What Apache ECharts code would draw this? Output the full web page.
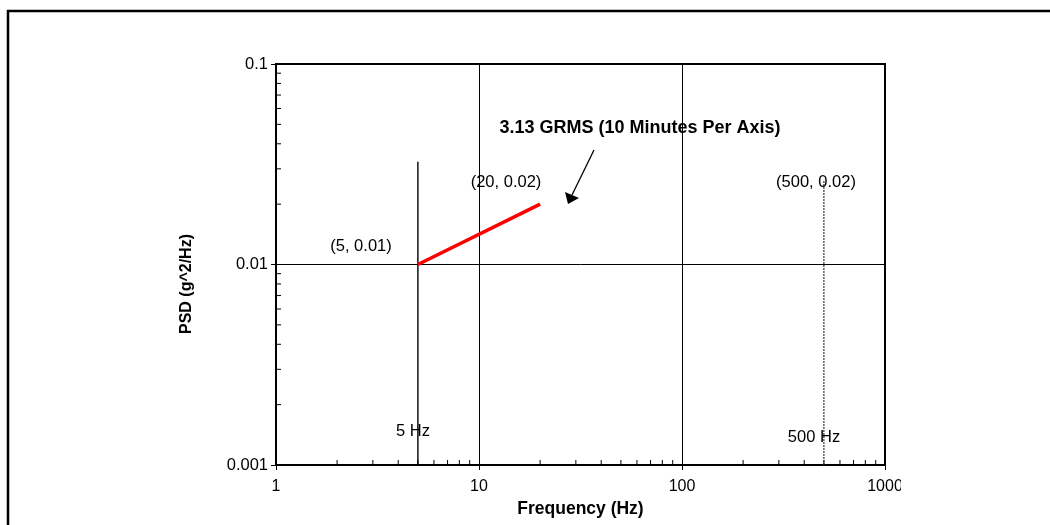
<!DOCTYPE html>
<html>
<head>
<meta charset="utf-8">
<script src="https://cdn.jsdelivr.net/npm/echarts@6/dist/echarts.min.js"></script>
<style>html,body{margin:0;padding:0;background:#fff;}#c{width:1050px;height:525px;}</style>
</head>
<body>
<div id="c"></div>
<script>
// ---- data ----
const xTickValues = [1, 10, 100, 1000];
const xTickLabels = ['1', '10', '100', '1000'];
const yTickValues = [0.001, 0.01, 0.1];
const yTickLabels = ['0.001', '0.01', '0.1'];
const xMinorTicks = [2,3,4,5,6,7,8,9,20,30,40,50,60,70,80,90,200,300,400,500,600,700,800,900];
const yMinorTicks = [0.002,0.003,0.004,0.005,0.006,0.007,0.008,0.009,0.02,0.03,0.04,0.05,0.06,0.07,0.08,0.09];
const profileFreq = [5, 20];
const profilePsd = [0.01, 0.02];
const line5HzFreq = [5, 5];
const line5HzPsd = [0.001, 0.0325];
const line500HzFreq = [500, 500];
const line500HzPsd = [0.001, 0.0265];

const FONT = '"Liberation Sans", Arial, sans-serif';
function lookup(vals, labels, v) {
  for (let i = 0; i < vals.length; i++) {
    if (Math.abs(Math.log10(v) - Math.log10(vals[i])) < 1e-6) return labels[i];
  }
  return '';
}
const zip = (a, b) => a.map((v, i) => [v, b[i]]);

const chart = echarts.init(document.getElementById('c'), null, {renderer: 'canvas'});
chart.setOption({
  animation: false,
  backgroundColor: '#fff',
  grid: {left: 276, right: 165, top: 64, bottom: 60, show: true, borderColor: '#000', borderWidth: 2, backgroundColor: 'transparent'},
  xAxis: {
    type: 'log', logBase: 10, min: 1, max: 1000,
    name: 'Frequency (Hz)', nameLocation: 'middle', nameGap: 28,
    nameTextStyle: {fontFamily: FONT, fontWeight: 'bold', fontSize: 17.5, color: '#000'},
    axisLine: {show: true, lineStyle: {color: '#000', width: 2}},
    axisTick: {show: true, length: 5, lineStyle: {color: '#000', width: 1}},
    axisLabel: {margin: 14, fontFamily: FONT, fontSize: 16, color: '#000',
      formatter: v => lookup(xTickValues, xTickLabels, v)},
    splitLine: {show: true, lineStyle: {color: '#000', width: 1}},
    minorTick: {show: false}, minorSplitLine: {show: false}
  },
  yAxis: {
    type: 'log', logBase: 10, min: 0.001, max: 0.1,
    axisLine: {show: true, lineStyle: {color: '#000', width: 2}},
    axisTick: {show: true, length: 5, lineStyle: {color: '#000', width: 1}},
    axisLabel: {margin: 8, fontFamily: FONT, fontSize: 16.5, color: '#000',
      formatter: v => lookup(yTickValues, yTickLabels, v)},
    splitLine: {show: true, lineStyle: {color: '#000', width: 1}}
  },
  series: [
    {
      type: 'custom', name: 'xMinor', clip: false, silent: true,
      data: xMinorTicks.map(v => [v, 0.001]),
      renderItem: (params, api) => {
        const p = api.coord([api.value(0), api.value(1)]);
        return {type: 'line', shape: {x1: p[0], y1: p[1], x2: p[0], y2: p[1] - 5}, style: {stroke: '#000', lineWidth: 1}};
      }
    },
    {
      type: 'custom', name: 'yMinor', clip: false, silent: true,
      data: yMinorTicks.map(v => [1, v]),
      renderItem: (params, api) => {
        const p = api.coord([api.value(0), api.value(1)]);
        return {type: 'line', shape: {x1: p[0], y1: p[1], x2: p[0] + 5, y2: p[1]}, style: {stroke: '#000', lineWidth: 1}};
      }
    },
    {
      type: 'line', name: '5 Hz', data: zip(line5HzFreq, line5HzPsd), symbol: 'none',
      lineStyle: {color: '#000', width: 1.4}, z: 3
    },
    {
      type: 'line', name: '500 Hz', data: zip(line500HzFreq, line500HzPsd), symbol: 'none',
      lineStyle: {color: '#333', width: 1.2, type: [2, 1]}, z: 3
    },
    {
      type: 'line', name: 'PSD', data: zip(profileFreq, profilePsd), symbol: 'none',
      lineStyle: {color: '#ff0000', width: 3.5}, z: 5
    }
  ],
  graphic: [
    {type: 'rect', shape: {x: 8, y: 11, width: 1200, height: 700}, style: {fill: 'none', stroke: '#000', lineWidth: 2.5}, silent: true, z: 10},
    {type: 'rect', shape: {x: 901, y: 474, width: 24, height: 26}, style: {fill: '#fff'}, silent: true, z: 20},
    {type: 'text', x: 187, y: 284, rotation: Math.PI / 2, style: {text: 'PSD (g^2/Hz)', font: 'bold 16px ' + FONT, fill: '#000', textAlign: 'center', textVerticalAlign: 'middle'}, z: 20},
    {type: 'text', x: 640, y: 128, style: {text: '3.13 GRMS (10 Minutes Per Axis)', font: 'bold 18px ' + FONT, fill: '#000', textAlign: 'center', textVerticalAlign: 'middle'}, z: 20},
    {type: 'text', x: 361, y: 246, style: {text: '(5, 0.01)', font: '16.5px ' + FONT, fill: '#000', textAlign: 'center', textVerticalAlign: 'middle'}, z: 20},
    {type: 'text', x: 506, y: 182, style: {text: '(20, 0.02)', font: '16.5px ' + FONT, fill: '#000', textAlign: 'center', textVerticalAlign: 'middle'}, z: 20},
    {type: 'text', x: 816, y: 182, style: {text: '(500, 0.02)', font: '16.5px ' + FONT, fill: '#000', textAlign: 'center', textVerticalAlign: 'middle'}, z: 20},
    {type: 'text', x: 413, y: 431, style: {text: '5 Hz', font: '16.5px ' + FONT, fill: '#000', textAlign: 'center', textVerticalAlign: 'middle'}, z: 20},
    {type: 'text', x: 814, y: 437, style: {text: '500 Hz', font: '16.5px ' + FONT, fill: '#000', textAlign: 'center', textVerticalAlign: 'middle'}, z: 20},
    {type: 'line', shape: {x1: 594, y1: 150, x2: 572, y2: 195}, style: {stroke: '#000', lineWidth: 1.3}, z: 20},
    {type: 'polygon', shape: {points: [[568, 204], [565, 192], [579, 198]]}, style: {fill: '#000'}, z: 20}
  ]
});
</script>
</body>
</html>
